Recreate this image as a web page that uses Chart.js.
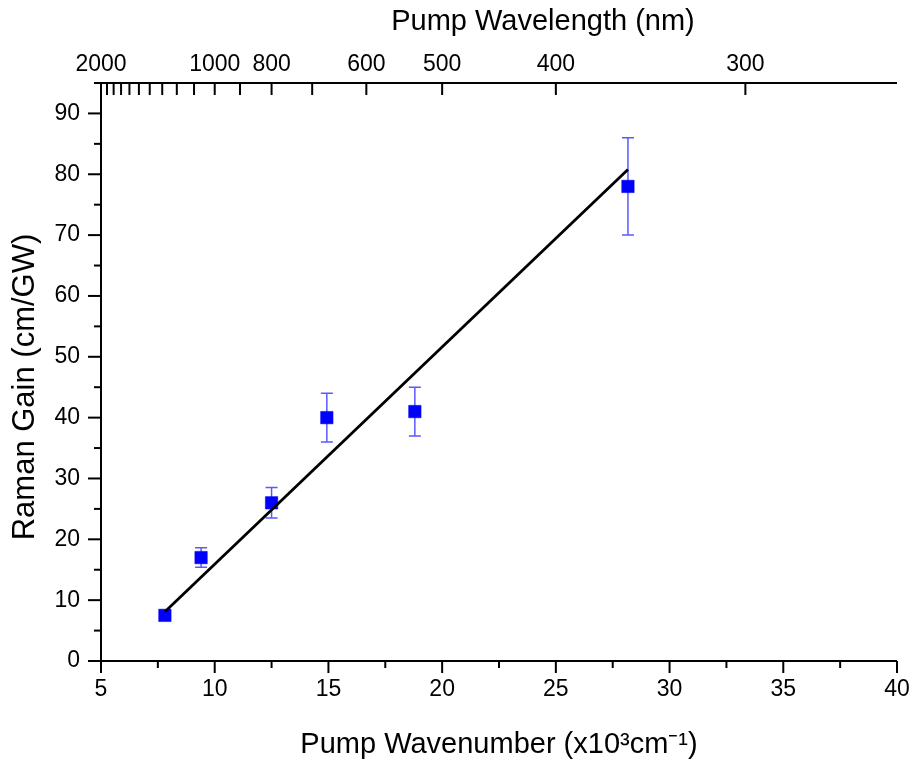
<!DOCTYPE html>
<html><head><meta charset="utf-8">
<script src="https://cdn.jsdelivr.net/npm/chart.js@4.4.1/dist/chart.umd.min.js"></script>
<style>html,body{margin:0;padding:0;background:#fff;}#wrap{width:912px;height:760px;position:relative;}</style>
</head><body><div id="wrap"><canvas id="c"></canvas></div>
<script>
// ---- data ----
const wavenumber = [7.81, 9.40, 12.50, 14.93, 18.80, 28.17];   // x10^3 cm^-1
const ramanGain  = [7.5, 17.0, 26.0, 40.0, 41.0, 78.0];        // cm/GW
const gainError  = [0.6, 1.6, 2.5, 4.0, 4.0, 8.0];
const fitX = [7.81, 28.17];
const fitY = [8.1, 80.8];
// ---- ticks ----
const xTickValues  = [5, 10, 15, 20, 25, 30, 35, 40];
const xMinorValues = [7.5, 12.5, 17.5, 22.5, 27.5, 32.5, 37.5];
const yTickValues  = [0, 10, 20, 30, 40, 50, 60, 70, 80, 90];
const yMinorValues = [5, 15, 25, 35, 45, 55, 65, 75, 85, 95];
const wlLabelled = [2000, 1000, 800, 600, 500, 400, 300];      // nm
const wlMinor    = [1900, 1800, 1700, 1600, 1500, 1400, 1300, 1200, 1100, 900, 700];

Chart.defaults.font.family = '"Liberation Sans", Arial, sans-serif';
Chart.defaults.color = '#000';

const FONT_TICK = {size: 23};
const FONT_TITLE = {size: 29};

const errorBars = {
  id: 'errorBars',
  beforeDatasetsDraw(chart) {
    const ctx = chart.ctx, x = chart.scales.x, y = chart.scales.y;
    ctx.save();
    ctx.strokeStyle = 'rgba(0,0,255,0.65)';
    ctx.lineWidth = 1.5;
    for (let i = 0; i < wavenumber.length; i++) {
      const px = x.getPixelForValue(wavenumber[i]);
      const pt = y.getPixelForValue(ramanGain[i] + gainError[i]);
      const pb = y.getPixelForValue(ramanGain[i] - gainError[i]);
      ctx.beginPath();
      ctx.moveTo(px, pt); ctx.lineTo(px, pb);
      ctx.moveTo(px - 6, pt); ctx.lineTo(px + 6, pt);
      ctx.moveTo(px - 6, pb); ctx.lineTo(px + 6, pb);
      ctx.stroke();
    }
    ctx.restore();
  }
};

const axesDraw = {
  id: 'axesDraw',
  afterDraw(chart) {
    const ctx = chart.ctx, x = chart.scales.x, y = chart.scales.y, x2 = chart.scales.x2;
    const {left, right, top, bottom} = chart.chartArea;
    ctx.save();
    ctx.strokeStyle = '#000';
    ctx.lineWidth = 2;
    const seg = (a, b, c, d) => { ctx.beginPath(); ctx.moveTo(a, b); ctx.lineTo(c, d); ctx.stroke(); };
    seg(left, top - 1, left, bottom + 1);
    seg(left, bottom, right, bottom);
    seg(left, top, right, top);
    yTickValues.forEach(v => { const p = y.getPixelForValue(v); seg(left - 13, p, left, p); });
    yMinorValues.forEach(v => { const p = y.getPixelForValue(v); seg(left - 7, p, left, p); });
    xTickValues.forEach(v => { const p = x.getPixelForValue(v); seg(p, bottom, p, bottom + 12); });
    xMinorValues.forEach(v => { const p = x.getPixelForValue(v); seg(p, bottom, p, bottom + 7); });
    x2.ticks.forEach(t => { const p = x2.getPixelForValue(t.value); seg(p, top, p, top + 12); });
    // axis titles
    ctx.fillStyle = '#000';
    ctx.font = '29px "Liberation Sans", Arial, sans-serif';
    ctx.textAlign = 'center';
    ctx.textBaseline = 'middle';
    ctx.fillText('Pump Wavelength (nm)', (left + right) / 2 + 44, 22);
    ctx.save();
    ctx.translate(25, (top + bottom) / 2 + 15);
    ctx.rotate(-Math.PI / 2);
    ctx.font = '31px "Liberation Sans", Arial, sans-serif';
    ctx.fillText('Raman Gain (cm/GW)', 0, 0);
    ctx.restore();
    ctx.restore();
  }
};

new Chart(document.getElementById('c'), {
  type: 'scatter',
  data: {
    datasets: [
      {
        label: 'fit',
        type: 'line',
        data: fitX.map((v, i) => ({x: v, y: fitY[i]})),
        borderColor: '#000',
        borderWidth: 2.8,
        pointRadius: 0,
        fill: false,
        order: 0
      },
      {
        label: 'Raman gain',
        data: wavenumber.map((v, i) => ({x: v, y: ramanGain[i]})),
        pointStyle: 'rect',
        pointRadius: 8.8,
        pointBackgroundColor: '#0000ff',
        pointBorderColor: '#0000ff',
        pointBorderWidth: 0.5,
        order: 1
      }
    ]
  },
  options: {
    responsive: true,
    maintainAspectRatio: false,
    animation: false,
    layout: {padding: {left: 0, right: 15, top: 0, bottom: 0}},
    plugins: {legend: {display: false}, tooltip: {enabled: false}},
    scales: {
      x: {
        type: 'linear', position: 'bottom', min: 5, max: 40,
        afterBuildTicks: s => { s.ticks = xTickValues.map(v => ({value: v})); },
        afterFit: s => { s.height = 99; s.paddingLeft = 0; s.paddingRight = 0; },
        grid: {display: false, drawTicks: false},
        border: {display: false},
        ticks: {font: FONT_TICK, padding: 15, autoSkip: false, maxRotation: 0, minRotation: 0, color: '#000'},
        title: {display: true, text: 'Pump Wavenumber (x10³cm⁻¹)', font: FONT_TITLE, padding: {top: 0, bottom: -2}, color: '#000'}
      },
      x2: {
        type: 'linear', position: 'top', min: 5, max: 40,
        afterBuildTicks: s => {
          s.ticks = wlLabelled.concat(wlMinor).map(w => 1e4 / w).sort((a, b) => a - b).map(v => ({value: v}));
        },
        afterFit: s => { s.height = 83; s.paddingLeft = 0; s.paddingRight = 0; },
        grid: {display: false, drawTicks: false},
        border: {display: false},
        ticks: {
          font: FONT_TICK, padding: 5, autoSkip: false, maxRotation: 0, minRotation: 0, color: '#000',
          callback: v => { const w = Math.round(1e4 / v); return wlLabelled.includes(w) ? String(w) : ''; }
        }
      },
      y: {
        type: 'linear', position: 'left', min: 0, max: 95,
        afterBuildTicks: s => { s.ticks = yTickValues.map(v => ({value: v})); },
        afterFit: s => { s.width = 101; s.paddingTop = 0; s.paddingBottom = 0; },
        grid: {display: false, drawTicks: false},
        border: {display: false},
        ticks: {font: FONT_TICK, padding: 21, color: '#000'}
      }
    }
  },
  plugins: [errorBars, axesDraw]
});
</script>
</body></html>
